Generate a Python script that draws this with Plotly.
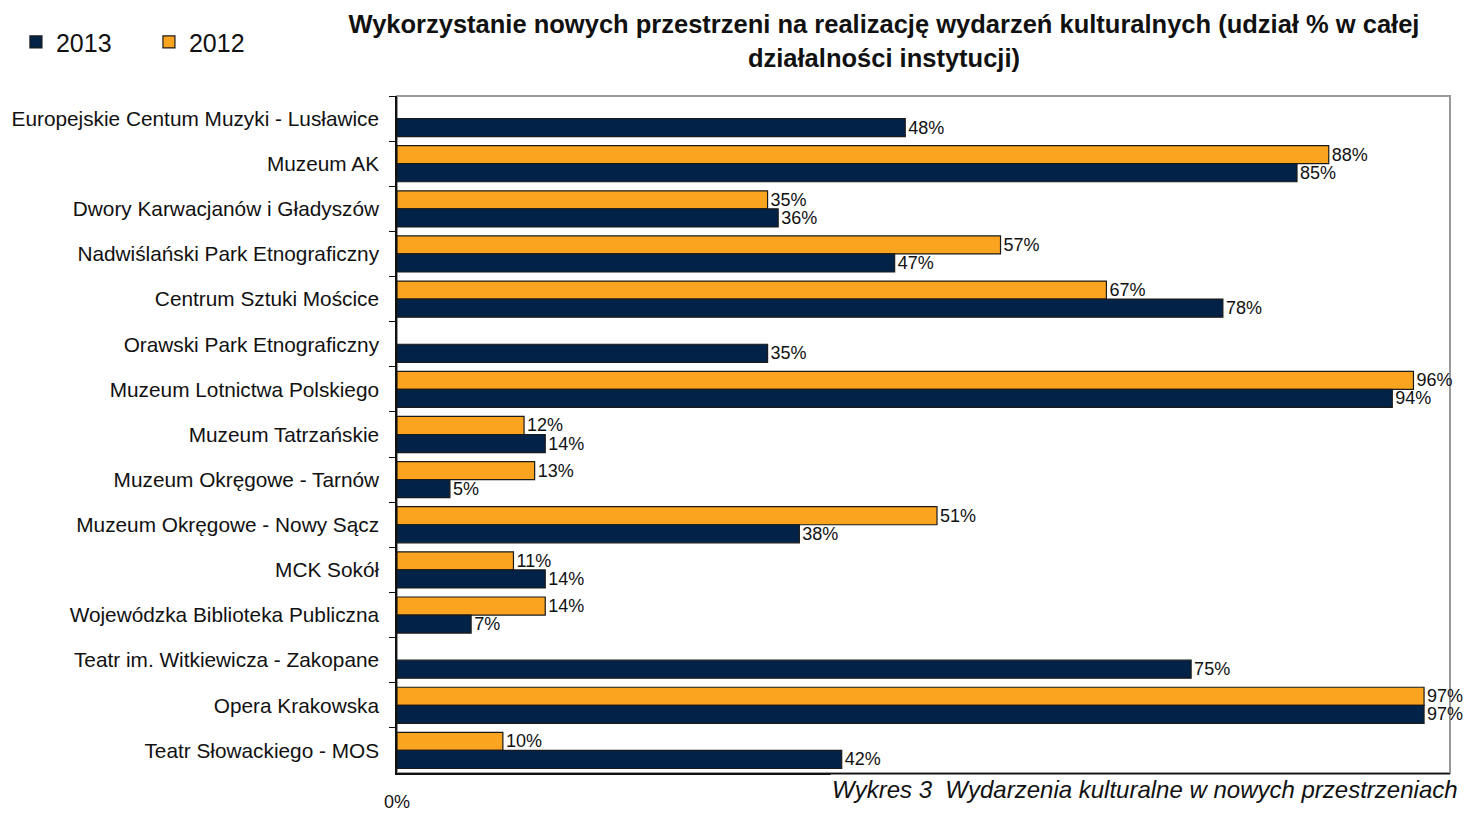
import plotly.graph_objects as go

categories = [
    "Europejskie Centum Muzyki - Lusławice",
    "Muzeum AK",
    "Dwory Karwacjanów i Gładyszów",
    "Nadwiślański Park Etnograficzny",
    "Centrum Sztuki Mościce",
    "Orawski Park Etnograficzny",
    "Muzeum Lotnictwa Polskiego",
    "Muzeum Tatrzańskie",
    "Muzeum Okręgowe - Tarnów",
    "Muzeum Okręgowe - Nowy Sącz",
    "MCK Sokół",
    "Wojewódzka Biblioteka Publiczna",
    "Teatr im. Witkiewicza - Zakopane",
    "Opera Krakowska",
    "Teatr Słowackiego - MOS",
]
values_2013 = [48, 85, 36, 47, 78, 35, 94, 14, 5, 38, 14, 7, 75, 97, 42]
values_2012 = [None, 88, 35, 57, 67, None, 96, 12, 13, 51, 11, 14, None, 97, 10]

NAVY = "#022347"
ORANGE = "#FBA420"
FONT = "Liberation Sans, Arial, sans-serif"

def labels(vals):
    return [("" if v is None else f"{v}%") for v in vals]

fig = go.Figure()
fig.add_trace(go.Bar(
    name="2012", y=categories, x=values_2012, orientation="h",
    marker=dict(color=ORANGE, line=dict(color="#1a1a1a", width=1.2)),
    text=labels(values_2012), textposition="outside", cliponaxis=False,
    constraintext="none",
    textfont=dict(size=18, color="#111111", family=FONT),
))
fig.add_trace(go.Bar(
    name="2013", y=categories, x=values_2013, orientation="h",
    marker=dict(color=NAVY, line=dict(color="#1a1a1a", width=1.2)),
    text=labels(values_2013), textposition="outside", cliponaxis=False,
    constraintext="none",
    textfont=dict(size=18, color="#111111", family=FONT),
))

fig.update_layout(
    width=1471, height=814,
    barmode="group", bargap=0.2, bargroupgap=0,
    plot_bgcolor="white", paper_bgcolor="white",
    margin=dict(l=389, r=29, t=88, b=49, autoexpand=False),
    font=dict(family=FONT, color="#111111"),
    title=dict(
        text="Wykorzystanie nowych przestrzeni na realizację wydarzeń kulturalnych (udział % w całej<br>działalności instytucji)",
        x=0.5955, xanchor="center", y=0.9687, yanchor="middle",
        xref="container", yref="container",
        font=dict(size=25.5, family=FONT, color="#111111", weight="bold"),
    ),
    legend=dict(
        orientation="h", traceorder="reversed",
        xref="container", yref="container",
        x=0.0054, xanchor="left", y=0.958, yanchor="middle",
        font=dict(size=25, family=FONT, color="#111111"),
        entrywidth=88, entrywidthmode="pixels",
        itemwidth=30,
    ),
    showlegend=True,
)
fig.update_yaxes(
    autorange="reversed", tickson="boundaries", ticks="outside", ticklen=6,
    tickcolor="#111111", showline=True, linecolor="#111111", linewidth=1.5,
    showgrid=False, ticklabelstandoff=12, automargin=False,
    tickfont=dict(size=20.8, family=FONT, color="#111111"),
)
fig.update_xaxes(
    range=[0, 99.45], showgrid=False, zeroline=False,
    showline=True, linecolor="#111111", linewidth=1.5,
    tickvals=[0], ticktext=["0%"], ticks="", ticklabelstandoff=12,
    automargin=False,
    tickfont=dict(size=18, family=FONT, color="#111111"),
)
fig.add_shape(type="rect", xref="paper", yref="paper", x0=0, x1=1, y0=0, y1=1,
              line=dict(color="#9a9a9a", width=2), layer="below")
fig.add_annotation(
    text="<i>Wykres 3  Wydarzenia kulturalne w nowych przestrzeniach</i>",
    xref="paper", yref="paper", x=1.0095, y=-0.0251, xanchor="right", yanchor="middle",
    showarrow=False, font=dict(size=24, family=FONT, color="#111111"),
    bgcolor="white",
)
fig.write_html("out.html")
